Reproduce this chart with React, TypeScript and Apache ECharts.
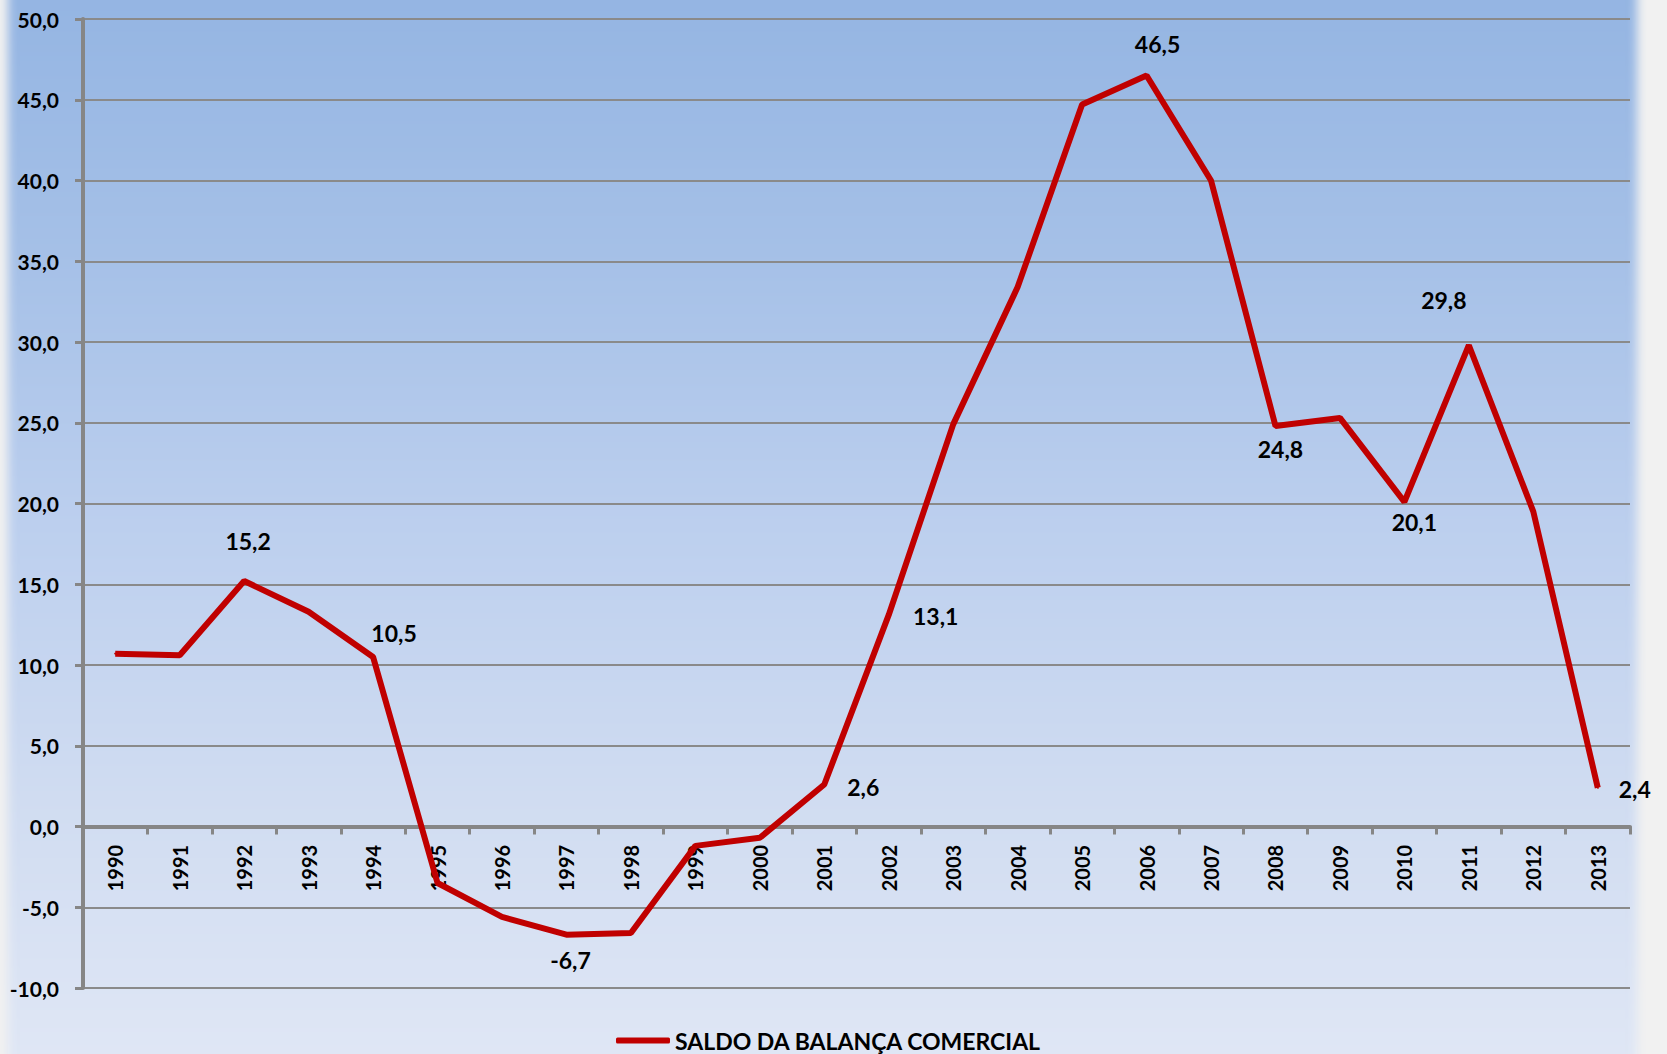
import React, { useEffect, useRef } from "react";
import * as echarts from "echarts";

const years = [
  "1990", "1991", "1992", "1993", "1994", "1995", "1996", "1997", "1998", "1999", "2000", "2001",
  "2002", "2003", "2004", "2005", "2006", "2007", "2008", "2009", "2010", "2011", "2012", "2013",
];
const saldo = [
  10.7, 10.6, 15.2, 13.3, 10.5, -3.5, -5.6, -6.7, -6.6, -1.2, -0.7, 2.6,
  13.1, 24.9, 33.4, 44.7, 46.5, 40.0, 24.8, 25.3, 20.1, 29.8, 19.5, 2.4,
];
const seriesName = "SALDO DA BALANÇA COMERCIAL";
// which years carry a data label, with the label's offset from the point (layout only)
const labelOffsets: Record<string, [number, number]> = {
  "1992": [4, -40],
  "1994": [21, -24],
  "1997": [4, 25],
  "2001": [39, 2],
  "2002": [47, 1],
  "2006": [11, -32],
  "2008": [5, 23],
  "2010": [10, 20],
  "2011": [-25, -45],
  "2013": [37, 1],
};

const fmt = (v: number) => v.toFixed(1).replace(".", ",");
const FONT = "Lato, 'Open Sans', sans-serif";
const GRID_TOP = 19;
const GRID_BOTTOM = 66;
const H = 1054;

export default function App() {
  const ref = useRef<HTMLDivElement>(null);
  useEffect(() => {
    document.body.style.margin = "0";
    if (!ref.current) return;
    const chart = echarts.init(ref.current, undefined, { renderer: "svg" });
    const data = saldo.map((v, i) => {
      const off = labelOffsets[years[i]];
      return {
        value: v,
        label: off
          ? {
              show: true,
              position: "inside",
              offset: off,
              formatter: () => fmt(v),
              color: "#000",
              fontSize: 23,
              fontWeight: "bold",
              fontFamily: FONT,
            }
          : { show: false },
      };
    });
    chart.setOption({
      animation: false,
      backgroundColor: "transparent",
      grid: { left: 83, right: 37, top: GRID_TOP, bottom: GRID_BOTTOM, containLabel: false },
      legend: {
        data: [seriesName],
        left: 611,
        top: 1024,
        icon: "roundRect",
        itemWidth: 54,
        itemHeight: 6,
        itemGap: 10,
        textStyle: { color: "#000", fontSize: 23, fontWeight: "bold", fontFamily: FONT },
      },
      xAxis: [
        {
          type: "category",
          data: years,
          position: "bottom",
          boundaryGap: true,
          axisLine: { onZero: true, lineStyle: { color: "#868686", width: 4 } },
          axisTick: { show: true, interval: 0, length: 8, lineStyle: { color: "#868686", width: 3 } },
          axisLabel: { show: false },
          splitLine: { show: false },
        },
        {
          type: "category",
          data: years,
          position: "bottom",
          boundaryGap: true,
          offset: 0,
          axisLine: { show: false, onZero: false },
          axisTick: { show: false },
          axisLabel: {
            interval: 0,
            rotate: 90,
            margin: 27,
            color: "#000",
            fontSize: 20,
            fontWeight: "bold",
            fontFamily: FONT,
          },
          splitLine: { show: false },
        },
      ],
      yAxis: {
        type: "value",
        min: -10,
        max: 50,
        interval: 5,
        axisLine: { show: true, lineStyle: { color: "#868686", width: 4 } },
        axisTick: { show: true, length: 8, lineStyle: { color: "#868686", width: 3 } },
        axisLabel: {
          formatter: (v: number) => fmt(v),
          margin: 24,
          color: "#000",
          fontSize: 21,
          fontWeight: "bold",
          fontFamily: FONT,
        },
        splitLine: { show: true, lineStyle: { color: "#8a8a8a", width: 2 } },
      },
      series: [
        {
          name: seriesName,
          type: "line",
          xAxisIndex: 0,
          data,
          color: "#c00000",
          symbol: "circle",
          symbolSize: 2,
          showSymbol: true,
          lineStyle: { color: "#c00000", width: 6 },
          itemStyle: { color: "#c00000" },
          z: 3,
        },
      ],
    });
    // place the year labels just under the zero line
    const zeroY = chart.convertToPixel({ yAxisIndex: 0 }, 0) as number;
    const bottomY = H - GRID_BOTTOM;
    chart.setOption({ xAxis: [{}, { offset: -(bottomY - zeroY) }] });
    return () => chart.dispose();
  }, []);

  return (
    <div
      style={{
        position: "relative",
        width: 1667,
        height: 1054,
        overflow: "hidden",
        background: "#f1f1f1",
      }}
    >
      <div
        style={{
          position: "absolute",
          left: 8,
          right: 30,
          top: -20,
          bottom: -20,
          filter: "blur(5px)",
          background:
            "linear-gradient(to bottom, #93b4e2 0%, #a5c0e7 25%, #bccfee 50%, #d0dcf1 75%, #e0e7f5 100%)",
        }}
      />
      <div ref={ref} style={{ position: "absolute", left: 0, top: 0, width: 1667, height: 1054 }} />
    </div>
  );
}
